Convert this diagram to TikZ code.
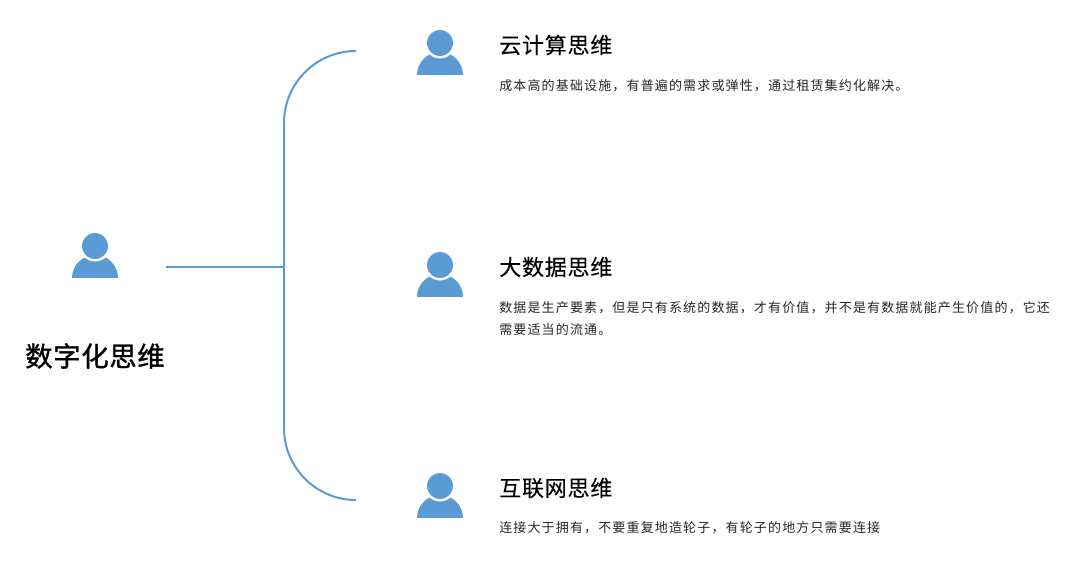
\documentclass[tikz,border=0pt]{standalone}
\usepackage{fontspec}
\setmainfont{Noto Sans CJK SC}
\newfontfamily\cjkd[LetterSpace=8.85]{Noto Sans CJK SC}
\newfontfamily\cjkt[LetterSpace=3.5,FakeBold=0.12]{Noto Sans CJK SC}
\newfontfamily\cjkm[LetterSpace=2.5,FakeBold=1.2]{Noto Sans CJK SC}
\definecolor{iconblue}{HTML}{5B9BD5}
\tikzset{
  px/.style={x=0.75pt,y=-0.75pt},
  headdot/.style={circle,fill=iconblue,draw=white,line width=1.8pt,inner sep=0pt,minimum size=21.4pt},
  bracketline/.style={draw=iconblue,line width=1.5pt},
  maintitle/.style={anchor=center,inner sep=0pt,font=\cjkm\fontsize{20.5}{25}\selectfont,text=black},
  subtitle/.style={anchor=west,inner sep=0pt,font=\cjkt\fontsize{16.5}{20}\selectfont,text=black},
  desc/.style={anchor=north west,inner sep=0pt,align=left,font=\cjkd\fontsize{9.75}{16.5}\selectfont,text=black!85},
  person/.pic={
    \fill[iconblue] (-23,32) arc[start angle=180,end angle=0,radius=17.25pt] -- cycle;
    \node[headdot] (-head) at (0,0) {};
  }
}
\begin{document}
\begin{tikzpicture}[px]
\useasboundingbox (0,0) rectangle (1086,580);
\pic (p0) at (95,246) {person};
\pic (p1) at (440,43) {person};
\pic (p2) at (440,265) {person};
\pic (p3) at (440,486) {person};
\node[maintitle] (main) at (95,356) {数字化思维};
\node[subtitle] (t1) at (499,45) {云计算思维};
\node[desc] (d1) at (499,79) {成本高的基础设施，有普遍的需求或弹性，通过租赁集约化解决。};
\node[subtitle] (t2) at (499,267) {大数据思维};
\node[desc] (d2) at (499,301) {数据是生产要素，但是只有系统的数据，才有价值，并不是有数据就能产生价值的，它还\\需要适当的流通。};
\node[subtitle] (t3) at (499,488) {互联网思维};
\node[desc] (d3) at (499,521) {连接大于拥有，不要重复地造轮子，有轮子的地方只需要连接};
\coordinate (stem) at (166,267);
\coordinate (junction) at (284,267);
\coordinate (top) at (356,51);
\coordinate (bottom) at (356,500);
\draw[bracketline] (top) arc[start angle=90,end angle=180,radius=54pt] -- (284,428) arc[start angle=180,end angle=270,radius=54pt];
\draw[bracketline] (stem) -- (junction);
\end{tikzpicture}
\end{document}
